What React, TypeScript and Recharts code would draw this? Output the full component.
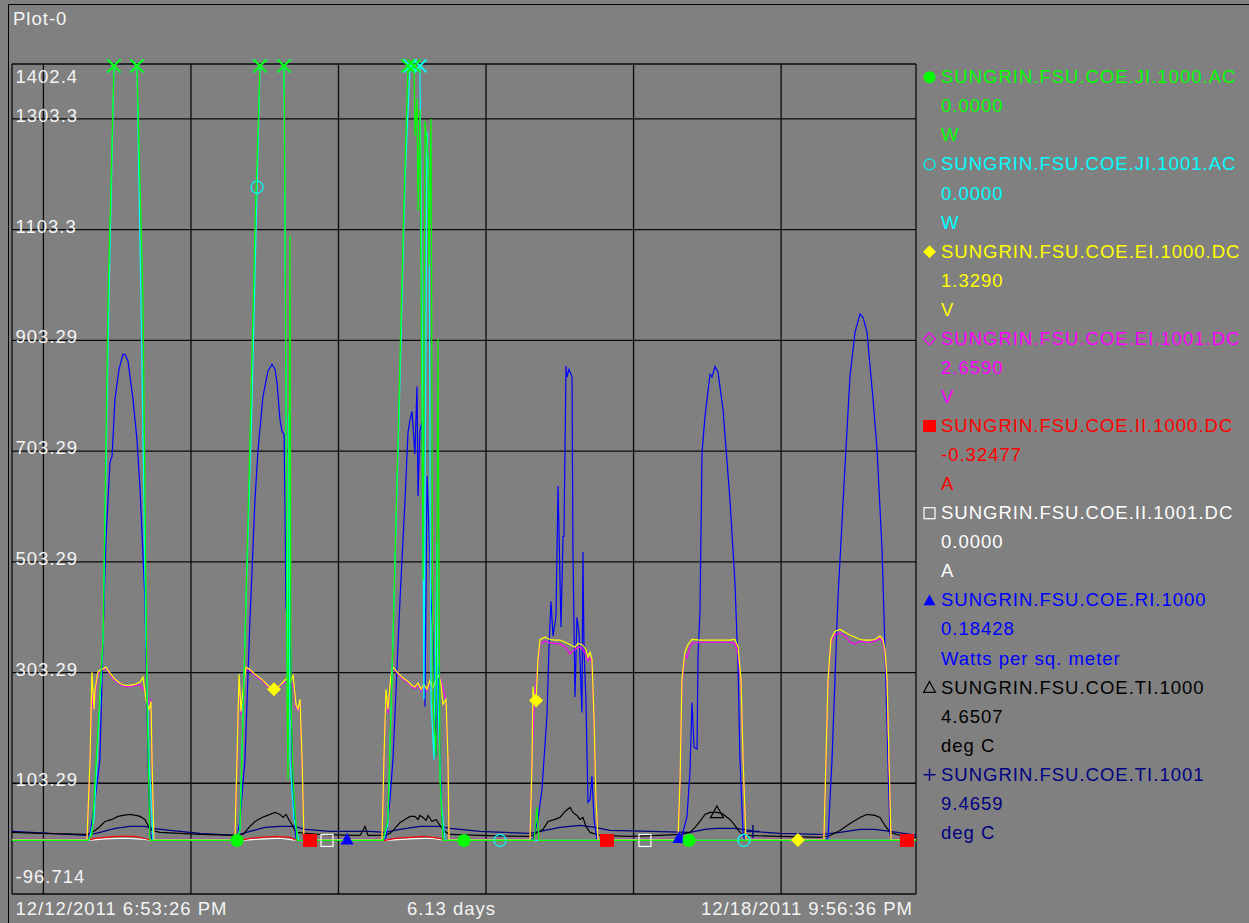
import React from 'react';
import { LineChart, Line, XAxis, YAxis, CartesianGrid, ReferenceLine, ReferenceDot } from 'recharts';

// x = days since 12/12/2011 6:53:26 PM, y = trend value
const spanDays = 6.1272;
const midnights = [0.2129, 1.2129, 2.2129, 3.2129, 4.2129, 5.2129];
const yMin = -96.714;
const yMax = 1402.4;
const yTicks = [-96.714, 103.29, 303.29, 503.29, 703.29, 903.29, 1103.3, 1303.3, 1402.4];
const xLabels = ['12/12/2011 6:53:26 PM', '6.13 days', '12/18/2011 9:56:36 PM'];

const tagNames = [
  'SUNGRIN.FSU.COE.JI.1000.AC',
  'SUNGRIN.FSU.COE.JI.1001.AC',
  'SUNGRIN.FSU.COE.EI.1000.DC',
  'SUNGRIN.FSU.COE.EI.1001.DC',
  'SUNGRIN.FSU.COE.II.1000.DC',
  'SUNGRIN.FSU.COE.II.1001.DC',
  'SUNGRIN.FSU.COE.RI.1000',
  'SUNGRIN.FSU.COE.TI.1000',
  'SUNGRIN.FSU.COE.TI.1001',
];
const tagValues = ['0.0000', '0.0000', '1.3290', '2.6590', '-0.32477', '0.0000', '0.18428', '4.6507', '9.4659'];
const tagUnits = ['W', 'W', 'V', 'V', 'A', 'A', 'Watts per sq. meter', 'deg C', 'deg C'];
const tagColors = ['#00ff00', '#00ffff', '#ffff00', '#ff00ff', '#ff0000', '#ffffff', '#0000ff', '#000000', '#000080'];
const tagShapes = ['circle', 'ring', 'diamond', 'diamondOpen', 'square', 'squareOpen', 'triangle', 'triangleOpen', 'plus'];

const ji1000: [number, number][] = [
  [0, 0], [0.515, 0], [0.542, 11], [0.617, 363], [0.651, 978], [0.691, 1399], [0.766, 2400], [0.847, 1399], [0.888, 978], [0.915, 255], [0.935, 0],
  [1.518, 0], [1.525, 0], [1.545, 20], [1.579, 363], [1.613, 724], [1.647, 1110], [1.681, 1399], [1.762, 2400], [1.844, 1399], [1.857, 797], [1.864, 255], [1.871, 110], [1.884, 1092], [1.891, 255], [1.905, 110], [1.932, 0],
  [2.515, 0], [2.548, 38], [2.582, 363], [2.623, 797], [2.657, 1159], [2.684, 1399], [2.704, 1800], [2.725, 1399], [2.731, 1272], [2.745, 1340], [2.752, 1137], [2.765, 1320], [2.786, 471], [2.799, 1300], [2.82, 1231], [2.826, 1037], [2.84, 1303], [2.853, 255], [2.874, 152], [2.887, 906], [2.901, 110], [2.921, 0],
  [3.064, 0], [3.538, 0], [3.558, 60], [3.572, 0], [4.589, 0], [6.127, 0],
];
const ji1001: [number, number][] = [
  [0, 0], [0.522, 0], [0.556, 38], [0.617, 363], [0.657, 978], [0.691, 1399], [0.766, 2300], [0.847, 1399], [0.874, 978], [0.908, 363], [0.929, 146], [0.956, 0],
  [1.518, 0], [1.545, 20], [1.579, 363], [1.627, 797], [1.661, 1180], [1.681, 1399], [1.762, 2300], [1.844, 1399], [1.857, 797], [1.871, 255], [1.877, 775], [1.884, 146], [1.911, 38], [1.945, 0],
  [2.515, 0], [2.548, 29], [2.582, 363], [2.63, 833], [2.664, 1195], [2.698, 1399], [2.725, 1700], [2.765, 1399], [2.779, 978], [2.792, 255], [2.813, 1280], [2.826, 1163], [2.84, 255], [2.86, 146], [2.881, 539], [2.887, 255], [2.908, 74], [2.935, 0],
  [3.308, 0], [4.961, 0], [6.127, 0],
];
const ei1000: [number, number][] = [
  [0, 1], [0.508, 1], [0.529, 146], [0.542, 304], [0.556, 237], [0.563, 273], [0.583, 305], [0.603, 309], [0.637, 313], [0.664, 302], [0.698, 291], [0.732, 284], [0.766, 280], [0.8, 280], [0.834, 282], [0.868, 286], [0.888, 295], [0.908, 255], [0.929, 237], [0.942, 251], [0.949, 146], [0.962, 1],
  [1.511, 1], [1.525, 146], [1.539, 300], [1.552, 233], [1.566, 273], [1.586, 313], [1.613, 309], [1.647, 300], [1.694, 291], [1.735, 280], [1.776, 273], [1.816, 280], [1.844, 288], [1.871, 295], [1.884, 286], [1.905, 298], [1.925, 246], [1.938, 237], [1.952, 255], [1.966, 146], [1.979, 1],
  [2.508, 1], [2.521, 146], [2.535, 273], [2.548, 237], [2.569, 300], [2.582, 313], [2.609, 305], [2.643, 295], [2.684, 287], [2.711, 280], [2.731, 277], [2.752, 284], [2.772, 273], [2.792, 282], [2.813, 273], [2.833, 289], [2.853, 276], [2.874, 291], [2.894, 298], [2.908, 282], [2.921, 246], [2.942, 255], [2.955, 146], [2.962, 1],
  [3.511, 1], [3.525, 146], [3.531, 278], [3.538, 255], [3.552, 253], [3.565, 327], [3.579, 363], [3.613, 367], [3.646, 363], [3.68, 362], [3.714, 362], [3.748, 358], [3.782, 354], [3.816, 349], [3.836, 356], [3.863, 354], [3.89, 345], [3.904, 331], [3.918, 340], [3.931, 327], [3.945, 219], [3.958, 74], [3.972, 1],
  [4.514, 1], [4.528, 110], [4.541, 291], [4.561, 340], [4.582, 354], [4.609, 363], [4.663, 362], [4.731, 362], [4.799, 362], [4.866, 362], [4.9, 363], [4.921, 349], [4.941, 291], [4.955, 146], [4.975, 1],
  [5.327, 1], [5.503, 1], [5.517, 146], [5.531, 291], [5.551, 363], [5.578, 378], [5.612, 381], [5.646, 376], [5.68, 371], [5.714, 367], [5.748, 363], [5.781, 362], [5.815, 362], [5.849, 363], [5.883, 369], [5.903, 363], [5.917, 345], [5.931, 291], [5.944, 146], [5.958, 1], [6.127, 1],
];
const ei1001: [number, number][] = [
  [0, 2], [0.508, 2], [0.529, 140], [0.542, 290], [0.549, 237], [0.563, 265], [0.583, 300], [0.603, 307], [0.637, 311], [0.664, 300], [0.698, 289], [0.732, 282], [0.766, 278], [0.8, 278], [0.834, 280], [0.868, 282], [0.888, 273], [0.915, 270], [0.929, 237], [0.942, 255], [0.949, 140], [0.962, 2],
  [1.511, 2], [1.525, 140], [1.539, 290], [1.552, 228], [1.566, 270], [1.586, 311], [1.613, 307], [1.647, 298], [1.694, 289], [1.735, 278], [1.776, 271], [1.816, 278], [1.844, 286], [1.871, 285], [1.884, 304], [1.898, 282], [1.911, 276], [1.925, 240], [1.938, 235], [1.952, 250], [1.966, 140], [1.979, 2],
  [2.508, 2], [2.521, 140], [2.535, 265], [2.548, 230], [2.569, 298], [2.582, 311], [2.609, 303], [2.643, 293], [2.684, 285], [2.711, 278], [2.731, 274], [2.752, 282], [2.772, 270], [2.792, 280], [2.813, 270], [2.833, 286], [2.853, 273], [2.874, 289], [2.894, 300], [2.921, 275], [2.942, 250], [2.955, 140], [2.962, 2],
  [3.511, 2], [3.525, 140], [3.538, 240], [3.565, 320], [3.579, 356], [3.613, 360], [3.646, 357], [3.68, 356], [3.714, 355], [3.748, 350], [3.782, 337], [3.796, 342], [3.816, 345], [3.836, 349], [3.863, 348], [3.89, 335], [3.904, 325], [3.918, 330], [3.931, 320], [3.945, 215], [3.958, 70], [3.972, 2],
  [4.514, 2], [4.528, 105], [4.541, 280], [4.561, 336], [4.575, 330], [4.595, 350], [4.609, 356], [4.663, 358], [4.731, 358], [4.799, 358], [4.866, 358], [4.9, 356], [4.921, 336], [4.941, 285], [4.955, 140], [4.975, 2],
  [5.503, 2], [5.517, 140], [5.531, 285], [5.551, 358], [5.578, 372], [5.612, 375], [5.646, 370], [5.68, 358], [5.714, 355], [5.748, 360], [5.781, 358], [5.815, 358], [5.849, 360], [5.883, 365], [5.903, 358], [5.917, 338], [5.931, 285], [5.944, 140], [5.958, 2], [6.127, 2],
];
const ii1000: [number, number][] = [
  [0, 0], [0.508, 0], [0.563, 3.6], [0.63, 5.4], [0.698, 7.2], [0.766, 7.2], [0.834, 7.2], [0.901, 3.6], [0.949, 0],
  [1.545, 0], [1.613, 3.6], [1.681, 5.4], [1.783, 7.2], [1.884, 5.4], [1.932, 0], [2.02, 0],
  [2.528, 0], [2.596, 3.6], [2.698, 5.4], [2.799, 7.2], [2.901, 3.6], [2.948, 0],
  [4.033, 0], [6.066, 0], [6.127, -0.3],
];
const ii1001: [number, number][] = [
  [0, 0], [0.508, 0], [0.63, 3], [0.766, 4], [0.901, 2], [0.949, 0],
  [1.545, 0], [1.715, 3], [1.816, 4], [1.932, 0], [2.135, 0],
  [2.528, 0], [2.698, 3], [2.833, 4], [2.948, 0], [4.29, 0], [6.127, 0],
];
const ri1000: [number, number][] = [
  [0, 0], [0.515, 0], [0.529, 11], [0.563, 74], [0.596, 146], [0.617, 363], [0.637, 544], [0.664, 683], [0.678, 694], [0.698, 797], [0.725, 851], [0.752, 878], [0.766, 878], [0.786, 866], [0.82, 797], [0.847, 724], [0.868, 634], [0.901, 436], [0.922, 146], [0.935, 20], [0.949, 0],
  [1.525, 0], [1.545, 38], [1.579, 146], [1.613, 400], [1.647, 616], [1.667, 703], [1.701, 802], [1.735, 848], [1.762, 860], [1.783, 851], [1.796, 827], [1.816, 761], [1.83, 739], [1.844, 733], [1.85, 616], [1.857, 423], [1.871, 390], [1.877, 584], [1.891, 255], [1.905, 74], [1.925, 0],
  [2.271, 2],
  [2.515, 0], [2.535, 5], [2.562, 74], [2.582, 146], [2.63, 436], [2.664, 616], [2.684, 737], [2.698, 760], [2.711, 775], [2.731, 698], [2.745, 820], [2.752, 622], [2.765, 740], [2.779, 756], [2.792, 520], [2.799, 242], [2.813, 658], [2.826, 562], [2.84, 436], [2.853, 375], [2.867, 255], [2.874, 152], [2.887, 314], [2.901, 146], [2.914, 38], [2.935, 0],
  [3.511, 0], [3.531, 2], [3.565, 38], [3.592, 92], [3.626, 226], [3.64, 351], [3.653, 432], [3.667, 369], [3.687, 405], [3.701, 640], [3.721, 385], [3.735, 549], [3.741, 549], [3.755, 857], [3.762, 837], [3.775, 851], [3.796, 837], [3.802, 521], [3.816, 259], [3.829, 403], [3.843, 376], [3.863, 231], [3.87, 521], [3.877, 345], [3.89, 255], [3.904, 69], [3.918, 74], [3.931, 116], [3.945, 38], [3.965, 0],
  [4.507, 0], [4.521, 5], [4.541, 7], [4.575, 43], [4.595, 123], [4.609, 249], [4.623, 168], [4.643, 165], [4.65, 336], [4.663, 414], [4.677, 701], [4.697, 766], [4.731, 842], [4.744, 837], [4.765, 856], [4.785, 846], [4.819, 779], [4.866, 616], [4.9, 466], [4.921, 315], [4.934, 146], [4.955, 11], [4.968, 0],
  [5.517, 0], [5.531, 5], [5.558, 146], [5.598, 436], [5.646, 676], [5.68, 839], [5.714, 918], [5.748, 951], [5.768, 945], [5.795, 918], [5.836, 797], [5.863, 707], [5.897, 526], [5.917, 345], [5.937, 146], [5.951, 11], [5.964, 0], [6.127, 0],
];
const ti1000: [number, number][] = [
  [0, 14.5], [0.19, 12.7], [0.508, 10.8], [0.563, 18.1], [0.596, 25.3], [0.63, 34.3], [0.678, 38], [0.718, 43.4], [0.752, 45.2], [0.8, 47], [0.84, 45.2], [0.868, 43.4], [0.901, 38], [0.922, 27.1], [0.949, 18.1], [1.003, 14.5], [1.274, 10.8],
  [1.518, 9], [1.566, 10.8], [1.613, 25.3], [1.647, 34.3], [1.694, 41.6], [1.749, 47], [1.783, 50.6], [1.816, 47], [1.837, 41.6], [1.857, 47], [1.884, 34.3], [1.905, 25.3], [1.925, 14.5], [2.088, 10.8], [2.291, 9], [2.359, 9], [2.393, 25.3], [2.413, 9],
  [2.528, 9], [2.562, 12.7], [2.596, 21.7], [2.63, 32.5], [2.664, 38], [2.698, 43.4], [2.731, 43.4], [2.752, 38], [2.765, 45.2], [2.786, 41.6], [2.806, 36.1], [2.82, 45.2], [2.847, 34.3], [2.874, 38], [2.901, 27.1], [2.935, 16.3], [2.969, 10.8], [3.172, 9],
  [3.511, 7.2], [3.599, 19.9], [3.633, 34.3], [3.68, 38], [3.714, 41.6], [3.748, 52.4], [3.782, 59.6], [3.802, 50.6], [3.829, 45.2], [3.85, 38], [3.87, 41.6], [3.89, 25.3], [3.918, 14.5], [3.985, 9], [4.189, 7.2], [4.392, 9],
  [4.528, 10.8], [4.595, 14.5], [4.629, 23.5], [4.663, 34.3], [4.697, 47], [4.731, 50.6], [4.778, 50.6], [4.812, 48.8], [4.866, 38], [4.9, 27.1], [4.934, 14.5], [4.968, 9], [5.205, 7.2], [5.476, 5.4],
  [5.544, 9], [5.612, 18.1], [5.68, 30.7], [5.748, 41.6], [5.795, 47], [5.849, 45.2], [5.883, 41.6], [5.917, 27.1], [5.951, 14.5], [6.019, 9], [6.127, 5],
];
const ti1001: [number, number][] = [
  [0, 16.3], [0.258, 12.7], [0.508, 9], [0.596, 14.5], [0.698, 21.7], [0.8, 25.3], [0.901, 25.3], [0.949, 21.7], [1.071, 18.1], [1.274, 12.7],
  [1.518, 9], [1.613, 16.3], [1.715, 23.5], [1.816, 25.3], [1.918, 25.3], [1.986, 19.9], [2.155, 16.3], [2.426, 16.3],
  [2.528, 14.5], [2.63, 19.9], [2.765, 25.3], [2.901, 25.3], [2.969, 21.7], [3.172, 16.3],
  [3.511, 12.7], [3.613, 18.1], [3.714, 23.5], [3.85, 27.1], [3.951, 23.5], [4.053, 18.1], [4.324, 16.3],
  [4.595, 14.5], [4.697, 19.9], [4.778, 21.7], [4.9, 21.7], [5.002, 18.1], [5.022, 16.3], [5.205, 12.7], [5.476, 10.8],
  [5.612, 14.5], [5.748, 19.9], [5.849, 19.9], [5.951, 16.3], [6.127, 9.5],
];

// times at which each trace shows its symbol
const ji1000Marks = [1.525, 3.064, 4.589];
const ji1001Marks = [1.661, 3.308, 4.961];
const ei1000Marks = [1.776, 3.552, 5.327];
const ei1001Marks: number[] = [];
const ii1000Marks = [2.02, 4.033, 6.066];
const ii1001Marks = [2.135, 4.29];
const ri1000Marks = [2.271, 4.521];
const ti1000Marks = [4.778];
const ti1001Marks = [5.022];

const seriesPoints = [ji1000, ji1001, ei1000, ei1001, ii1000, ii1001, ri1000, ti1000, ti1001];
const seriesMarks = [ji1000Marks, ji1001Marks, ei1000Marks, ei1001Marks, ii1000Marks, ii1001Marks, ri1000Marks, ti1000Marks, ti1001Marks];

const FONT = '"Liberation Sans", Arial, sans-serif';
const FS = 18.5;
const LS = 1;
const TEXT = '#f4f4f4';

const Glyph = ({ shape, x, y, color, s = 6.5 }: { shape: string; x: number; y: number; color: string; s?: number }) => {
  switch (shape) {
    case 'circle':
      return <circle cx={x} cy={y} r={s} fill={color} />;
    case 'ring':
      return <circle cx={x} cy={y} r={s - 0.5} fill="none" stroke={color} strokeWidth={1.2} />;
    case 'diamond':
      return <polygon points={`${x},${y - s - 0.5} ${x + s + 0.5},${y} ${x},${y + s + 0.5} ${x - s - 0.5},${y}`} fill={color} />;
    case 'diamondOpen':
      return <polygon points={`${x},${y - s} ${x + s},${y} ${x},${y + s} ${x - s},${y}`} fill="none" stroke={color} strokeWidth={1.2} />;
    case 'square':
      return <rect x={x - s - 0.5} y={y - s} width={2 * s + 1} height={2 * s} fill={color} />;
    case 'squareOpen':
      return <rect x={x - s + 0.5} y={y - s + 0.5} width={2 * s - 1} height={2 * s - 1} fill="none" stroke={color} strokeWidth={1.2} />;
    case 'triangle':
      return <polygon points={`${x},${y - s} ${x + s},${y + s * 0.8} ${x - s},${y + s * 0.8}`} fill={color} />;
    case 'triangleOpen':
      return <polygon points={`${x},${y - s} ${x + s},${y + s * 0.8} ${x - s},${y + s * 0.8}`} fill="none" stroke={color} strokeWidth={1.2} />;
    case 'plus':
      return (
        <g stroke={color} strokeWidth={1.4}>
          <line x1={x - s} y1={y} x2={x + s} y2={y} />
          <line x1={x} y1={y - s} x2={x} y2={y + s} />
        </g>
      );
    case 'cross':
      return (
        <g stroke={color} strokeWidth={2}>
          <line x1={x - s} y1={y - s} x2={x + s} y2={y + s} />
          <line x1={x - s} y1={y + s} x2={x + s} y2={y - s} />
        </g>
      );
    default:
      return null;
  }
};

const makeDot = (i: number) => (props: any) => {
  const { cx, cy, payload, index } = props;
  const key = `dot-${i}-${index}`;
  if (cx == null || cy == null) return <g key={key} />;
  if (seriesMarks[i].some((m) => Math.abs(m - payload.t) < 1e-6)) {
    return <g key={key}><Glyph shape={tagShapes[i]} x={cx} y={cy} color={tagColors[i]} /></g>;
  }
  return <g key={key} />;
};

const YTick = (props: any) => {
  const { y, payload } = props;
  const v = payload.value;
  const dy = v === yMax ? 19 : v === yMin ? -11 : 3;
  return (
    <text x={15.5} y={y + dy} fill={TEXT} fontSize={FS} fontFamily={FONT} letterSpacing={LS} textAnchor="start">
      {String(v)}
    </text>
  );
};

const NoTick = () => <g />;

const drawOrder = [8, 7, 6, 5, 4, 3, 2, 1, 0];

// points where the AC traces leave the top of the scale
const overflowMarks = [1, 0].flatMap((i) =>
  seriesPoints[i].filter(([, v]) => v >= 1399).map(([t, v]) => ({ i, t, v }))
);

export default function App() {
  const rowH = 29.06;
  const firstBase = 83.3;
  return (
    <div style={{ position: 'fixed', left: 0, top: 0, width: 1249, height: 923, background: '#808080', overflow: 'hidden' }}>
      <div style={{ position: 'absolute', left: 0, top: 0 }}>
        <LineChart width={1249} height={923} margin={{ top: 64, left: 11, right: 333, bottom: 28 }}>
          <CartesianGrid stroke="#0a0a0a" strokeWidth={1.3} vertical={false} />
          {[0, ...midnights, spanDays].map((t) => (
            <ReferenceLine key={`v-${t}`} x={t} stroke="#0a0a0a" strokeWidth={1.3} ifOverflow="visible" />
          ))}
          <XAxis
            type="number"
            dataKey="t"
            domain={[0, spanDays]}
            ticks={[0, ...midnights, spanDays]}
            allowDataOverflow
            height={1}
            tick={<NoTick />}
            tickLine={false}
            axisLine={false}
          />
          <YAxis
            type="number"
            domain={[yMin, yMax]}
            ticks={yTicks}
            interval={0}
            allowDataOverflow
            width={1}
            tick={<YTick />}
            tickLine={false}
            axisLine={false}
          />
          {drawOrder.map((i) => (
            <Line
              key={tagNames[i]}
              data={seriesPoints[i].map(([t, v]) => ({ t, v }))}
              dataKey="v"
              type="linear"
              stroke={tagColors[i]}
              strokeWidth={1.2}
              dot={makeDot(i)}
              activeDot={false}
              isAnimationActive={false}
            />
          ))}
          {overflowMarks.map((m) => (
            <ReferenceDot
              key={`x-${m.i}-${m.t}`}
              x={m.t}
              y={m.v}
              ifOverflow="visible"
              shape={(p: any) => <Glyph shape="cross" x={p.cx} y={p.cy} color={tagColors[m.i]} s={6.5} />}
            />
          ))}
        </LineChart>
      </div>
      <svg width={1249} height={923} style={{ position: 'absolute', left: 0, top: 0, pointerEvents: 'none' }}>
        <line x1={8.5} y1={4} x2={8.5} y2={923} stroke="#000" />
        <line x1={8} y1={4.5} x2={1249} y2={4.5} stroke="#000" />
        <g fontFamily={FONT} fontSize={FS} letterSpacing={LS} fill={TEXT}>
          <text x={13} y={25}>Plot-0</text>
          <text x={15.5} y={915} textAnchor="start">{xLabels[0]}</text>
          <text x={451.5} y={915} textAnchor="middle">{xLabels[1]}</text>
          <text x={913} y={915} textAnchor="end">{xLabels[2]}</text>
        </g>
        {tagNames.map((name, i) => {
          const base = firstBase + i * 3 * rowH;
          return (
            <g key={name} fontFamily={FONT} fontSize={FS} letterSpacing={LS} fill={tagColors[i]}>
              <Glyph shape={tagShapes[i]} x={929.5} y={base - 6} color={tagColors[i]} s={6} />
              <text x={941} y={base}>{name}</text>
              <text x={941} y={base + rowH}>{tagValues[i]}</text>
              <text x={941} y={base + 2 * rowH}>{tagUnits[i]}</text>
            </g>
          );
        })}
      </svg>
    </div>
  );
}
